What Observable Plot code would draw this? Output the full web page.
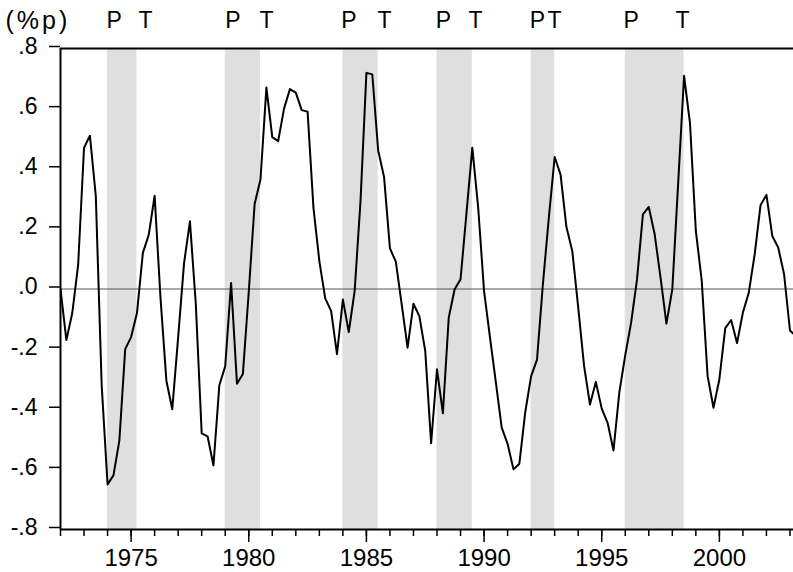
<!DOCTYPE html>
<html><head><meta charset="utf-8">
<script src="https://cdn.jsdelivr.net/npm/d3@7"></script>
<script src="https://cdn.jsdelivr.net/npm/@observablehq/plot@0.6"></script>
<style>body{margin:0;background:#fff}</style>
</head><body><div id="chart"></div>
<script>
// quarterly series, first value = 1972Q1
const startYear = 1972;
const values = [
  0.00, -0.17, -0.08, 0.08,      // 1972
  0.47, 0.51, 0.31, -0.32,       // 1973
  -0.65, -0.62, -0.505, -0.20,   // 1974
  -0.16, -0.08, 0.12, 0.18,      // 1975
  0.31, -0.03, -0.305, -0.40,    // 1976
  -0.16, 0.085, 0.225, -0.05,    // 1977
  -0.48, -0.49, -0.587, -0.32,   // 1978
  -0.257, 0.02, -0.315, -0.283,  // 1979
  -0.01, 0.283, 0.365, 0.67,     // 1980
  0.505, 0.492, 0.60, 0.665,     // 1981
  0.653, 0.595, 0.59, 0.27,      // 1982
  0.093, -0.031, -0.073, -0.217, // 1983
  -0.035, -0.143, -0.007, 0.293, // 1984
  0.719, 0.714, 0.461, 0.373,    // 1985
  0.135, 0.091, -0.051, -0.195,  // 1986
  -0.049, -0.09, -0.206, -0.513, // 1987
  -0.267, -0.413, -0.095, -0.001,// 1988
  0.032, 0.25, 0.47, 0.271,      // 1989
  -0.007, -0.16, -0.31, -0.461,  // 1990
  -0.515, -0.60, -0.581, -0.41,  // 1991
  -0.29, -0.235, 0.016, 0.235,   // 1992
  0.439, 0.381, 0.206, 0.126,    // 1993
  -0.06, -0.256, -0.384, -0.309, // 1994
  -0.398, -0.445, -0.537, -0.343,// 1995
  -0.22, -0.112, 0.032, 0.248,   // 1996
  0.273, 0.182, 0.038, -0.115,   // 1997
  -0.001, 0.354, 0.709, 0.553,   // 1998
  0.193, 0.028, -0.29, -0.395,   // 1999
  -0.30, -0.13, -0.103, -0.18,   // 2000
  -0.078, -0.012, 0.115, 0.279,  // 2001
  0.313, 0.176, 0.138, 0.049,    // 2002
  -0.138, -0.156                 // 2003
];
// shaded periods (peak -> trough)
const peaks   = [1974.0, 1979.0, 1984.0, 1988.0, 1992.0, 1996.0];
const troughs = [1975.25, 1980.5, 1985.5, 1989.5, 1993.0, 1998.5];
// P / T annotation positions
const pLabelX = [1973.95, 1979.0, 1983.93, 1987.95, 1991.94, 1995.93];
const tLabelX = [1975.31, 1980.46, 1985.47, 1989.34, 1992.70, 1998.14];
const yTicks = [0.8, 0.6, 0.4, 0.2, 0.0, -0.2, -0.4, -0.6, -0.8];
const yTickLabels = [".8", ".6", ".4", ".2", ".0", "-.2", "-.4", "-.6", "-.8"];
const xMajorTicks = [1975, 1980, 1985, 1990, 1995, 2000];
const xMinorTicks = [1972,1973,1974,1975,1976,1977,1978,1979,1980,1981,1982,1983,1984,1985,1986,1987,1988,1989,1990,1991,1992,1993,1994,1995,1996,1997,1998,1999,2000,2001,2002,2003];
const unitLabel = "(%p)";

const data = values.map((v, i) => ({t: startYear + i / 4, v}));
const shading = peaks.map((p, i) => ({x1: p, x2: troughs[i]}));

const plot = Plot.plot({
  width: 793, height: 572,
  marginTop: 48, marginBottom: 43, marginLeft: 60, marginRight: 0,
  style: {fontFamily: "'Liberation Sans', Arial, sans-serif", fontSize: "23px", background: "#fff", color: "#000", overflow: "visible"},
  x: {domain: [1972, 2003.15]},
  y: {domain: [-0.8, 0.8]},
  marks: [
    Plot.rect(shading, {x1: "x1", x2: "x2", fill: "#dfdfdf"}),
    Plot.ruleY([0], {stroke: "#555", strokeWidth: 1}),
    Plot.line(data, {x: "t", y: "v", stroke: "#000", strokeWidth: 2, clip: true}),
    Plot.ruleY([0.8], {stroke: "#000", strokeWidth: 2}),
    Plot.ruleY([-0.8], {stroke: "#000", strokeWidth: 2}),
    Plot.ruleX([1972], {stroke: "#000", strokeWidth: 2}),
    Plot.axisY({ticks: yTicks, tickFormat: d => yTickLabels[yTicks.indexOf(d)], tickSize: 11, tickPadding: 12, strokeWidth: 1.5, label: null, fontSize: 23, dy: -2}),
    Plot.axisX({ticks: xMinorTicks, tickSize: 7, tickFormat: () => "", strokeWidth: 1.5, label: null}),
    Plot.axisX({ticks: xMajorTicks, tickSize: 13, tickFormat: d => String(d), tickPadding: 6, strokeWidth: 1.5, label: null, fontSize: 24}),
    Plot.text(pLabelX, {x: d => d, text: () => "P", frameAnchor: "top", lineAnchor: "middle", dy: -28, textAnchor: "start", fontSize: 23}),
    Plot.text(tLabelX, {x: d => d, text: () => "T", frameAnchor: "top", lineAnchor: "middle", dy: -28, textAnchor: "start", fontSize: 23}),
    Plot.text([unitLabel], {text: d => d, frameAnchor: "top-left", lineAnchor: "middle", dx: -55, dy: -28, textAnchor: "start", fontSize: 25})
  ]
});
document.getElementById("chart").appendChild(plot);
// widen the unit label spacing like the reference
d3.select(plot).selectAll("text").filter(function() { return this.textContent === unitLabel; }).style("letter-spacing", "3px");
</script>
</body></html>
